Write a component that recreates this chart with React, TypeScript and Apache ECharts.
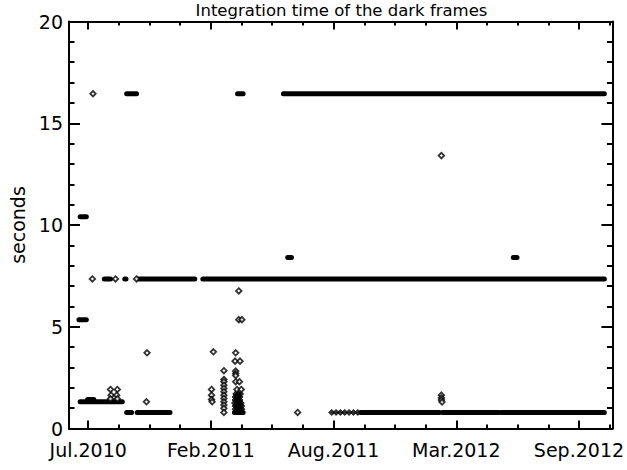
import React, { useEffect, useRef } from 'react';
import * as echarts from 'echarts';

// x values are days since 2010-07-20 (the "Jul.2010" tick)
const xMin = -31;
const xMax = 846;
const majorTickDays = [0, 198, 396, 594, 792];
const majorTickLabels = ['Jul.2010', 'Feb.2011', 'Aug.2011', 'Mar.2012', 'Sep.2012'];
const minorTickDays = [49.5, 99, 148.5, 247.5, 297, 346.5, 445.5, 495, 544.5, 643.5, 693, 742.5, 841.5];

const yMin = 0;
const yMax = 20;
const yInterval = 5;

// dense runs of frames: [startDay, endDay, seconds]
const denseRuns: [number, number, number][] = [
  [-13, -3, 10.4],
  [-15, -3, 5.35],
  [-13, 55, 1.31],
  [-1, 9, 1.42],
  [26, 36, 7.35],
  [59, 61, 7.35],
  [62, 78, 16.45],
  [62, 70, 0.79],
  [79, 132, 0.79],
  [82, 172, 7.35],
  [185, 833, 7.35],
  [241, 250, 16.45],
  [236, 250, 0.79],
  [322, 328, 8.4],
  [686, 692, 8.4],
  [315, 833, 16.45],
  [440, 567, 0.79],
  [572, 662, 0.79],
  [666, 833, 0.79],
];

// isolated frames: [day, seconds]
const singleFrames: [number, number][] = [
  [7.7, 16.45], [6.7, 7.35], [44, 7.35], [78, 7.35],
  [36, 1.92], [47, 1.92], [37, 1.64], [46, 1.64], [36, 1.46], [47, 1.46],
  [94, 1.31], [95, 3.72],
  [199, 1.92], [199, 1.64], [199, 1.43], [200, 1.31], [202, 3.77],
  [219, 2.84], [219, 2.41], [219, 2.3], [219, 2.13], [219, 1.97], [219, 1.81],
  [219, 1.64], [219, 1.48], [219, 1.31], [219, 1.15], [219, 0.99], [219, 0.79],
  [238, 3.72], [237, 3.31], [245, 3.31], [238, 2.82], [238, 2.7], [238, 2.6],
  [238, 2.3], [244, 2.3], [240, 1.92], [247, 1.92],
  [243, 6.76], [243, 5.35], [248, 5.35],
  [338, 0.79],
  [570, 13.41],
  [570, 1.64], [570, 1.5], [570, 1.4], [571, 1.3],
];

// clustered frames drawn filled: [day, seconds]
const clusteredFrames: [number, number][] = [
  [237, 0.95], [241, 0.95], [245, 0.95], [248, 0.95],
  [237, 1.1], [240, 1.1], [244, 1.1], [248, 1.1],
  [236, 1.25], [240, 1.25], [244, 1.25], [247, 1.25],
  [237, 1.4], [241, 1.4], [245, 1.4],
  [237, 1.55], [241, 1.55], [245, 1.55],
  [238, 1.7], [242, 1.7], [246, 1.7],
  [393, 0.79], [400, 0.79], [407, 0.79], [414, 0.79], [421, 0.79], [428, 0.79], [435, 0.79],
];

const TITLE = 'Integration time of the dark frames';
const Y_NAME = 'seconds';

const LINE = { color: '#000', width: 2 };
const FONT = 'DejaVu Sans';

function xAxisDef(position: 'top' | 'bottom', ticks: number[], len: number, labels: boolean, line: boolean) {
  return {
    type: 'value',
    position,
    min: xMin,
    max: xMax,
    axisLine: { show: line, onZero: false, lineStyle: LINE },
    axisTick: { show: true, inside: true, length: len, customValues: ticks, lineStyle: LINE },
    axisLabel: labels
      ? {
          show: true,
          customValues: ticks,
          formatter: (v: number) => majorTickLabels[majorTickDays.indexOf(v)] ?? '',
          margin: 12,
          fontSize: 19,
          fontFamily: FONT,
          color: '#000',
        }
      : { show: false },
    splitLine: { show: false },
  };
}

function yAxisDef(position: 'left' | 'right', labels: boolean) {
  return {
    type: 'value',
    position,
    min: yMin,
    max: yMax,
    interval: yInterval,
    axisLine: { show: true, onZero: false, lineStyle: LINE },
    axisTick: { show: true, inside: true, length: 11, lineStyle: LINE },
    minorTick: { show: true, splitNumber: 5, length: 5.5, lineStyle: LINE },
    axisLabel: labels
      ? { show: true, margin: 6, fontSize: 19, fontFamily: FONT, color: '#000' }
      : { show: false },
    splitLine: { show: false },
    minorSplitLine: { show: false },
    name: labels ? Y_NAME : '',
    nameLocation: 'middle',
    nameGap: 42,
    nameTextStyle: { fontSize: 19, fontFamily: FONT, color: '#000' },
  };
}

export default function App() {
  const ref = useRef<HTMLDivElement>(null);
  useEffect(() => {
    if (!ref.current) return;
    const chart = echarts.init(ref.current, undefined, { renderer: 'svg' });
    chart.setOption({
      animation: false,
      backgroundColor: '#fff',
      grid: { left: 68, right: 12, top: 21.5, bottom: 41.5, containLabel: false },
      graphic: [
        {
          type: 'text',
          x: 341.5,
          y: 10,
          style: {
            text: TITLE,
            fill: '#000',
            font: '16.5px "DejaVu Sans"',
            textAlign: 'center',
            textVerticalAlign: 'middle',
          },
        },
      ],
      xAxis: [
        xAxisDef('bottom', majorTickDays, 8, true, true),
        xAxisDef('bottom', minorTickDays, 4, false, false),
        xAxisDef('top', majorTickDays, 8, false, true),
        xAxisDef('top', minorTickDays, 4, false, false),
      ],
      yAxis: [yAxisDef('left', true), yAxisDef('right', false)],
      series: [
        {
          type: 'custom',
          xAxisIndex: 0,
          yAxisIndex: 0,
          encode: { x: [0, 1], y: 2 },
          data: denseRuns,
          renderItem: (params: any, api: any) => {
            const s = api.coord([api.value(0), api.value(2)]);
            const e = api.coord([api.value(1), api.value(2)]);
            const h = 5;
            return {
              type: 'rect',
              shape: { x: s[0] - h / 2, y: s[1] - h / 2, width: e[0] - s[0] + h, height: h, r: h / 2 },
              style: { fill: '#000' },
            };
          },
        },
        {
          type: 'scatter',
          xAxisIndex: 0,
          yAxisIndex: 0,
          symbol: 'diamond',
          symbolSize: 6,
          data: clusteredFrames,
          itemStyle: { color: '#000', borderColor: '#000', borderWidth: 1 },
        },
        {
          type: 'scatter',
          xAxisIndex: 0,
          yAxisIndex: 0,
          symbol: 'diamond',
          symbolSize: 5.5,
          data: singleFrames,
          itemStyle: { color: '#fff', borderColor: '#000', borderWidth: 1.8 },
        },
      ],
    });
    return () => chart.dispose();
  }, []);
  return <div ref={ref} style={{ position: 'fixed', left: 0, top: 0, width: 627, height: 470 }} />;
}
